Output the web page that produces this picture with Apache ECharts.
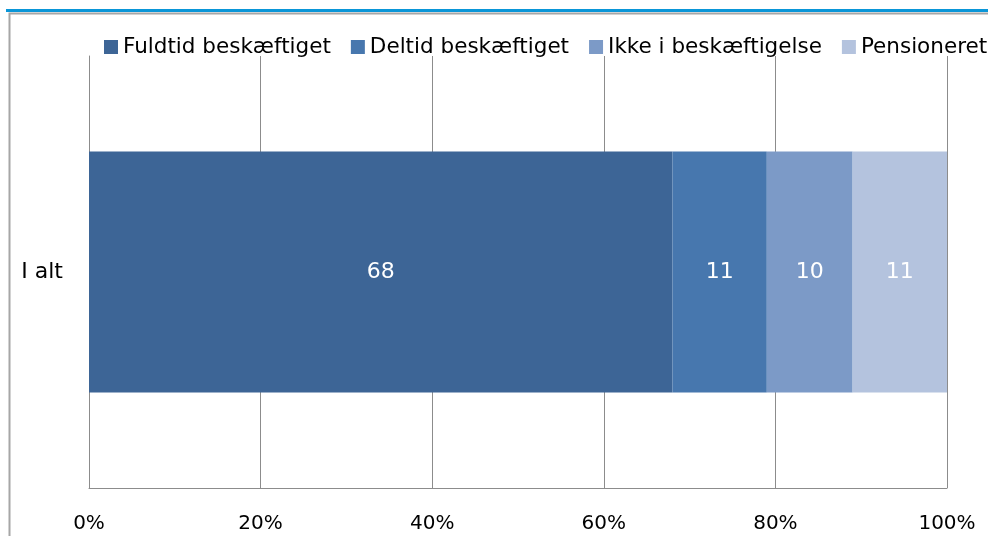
<!DOCTYPE html>
<html>
<head>
<meta charset="utf-8">
<script src="https://cdn.jsdelivr.net/npm/echarts@6/dist/echarts.min.js"></script>
<style>
  html, body { margin: 0; padding: 0; background: #fff; }
  #chart { width: 988px; height: 536px; }
</style>
</head>
<body>
<div id="chart"></div>
<script>
// kategorier og serier
const categories = ["I alt"];
const seriesNames = ["Fuldtid beskæftiget", "Deltid beskæftiget", "Ikke i beskæftigelse", "Pensioneret"];
const fuldtid = [68];
const deltid = [11];
const ikkeBeskaeftiget = [10];
const pensioneret = [11];
const tickLabels = ["0%", "20%", "40%", "60%", "80%", "100%"];

const colors = ["#3d6596", "#4777ae", "#7c9ac7", "#b4c3de"];
const font = "DejaVu Sans";

const seriesData = [fuldtid, deltid, ikkeBeskaeftiget, pensioneret];

const chart = echarts.init(document.getElementById("chart"));

const option = {
  animation: false,
  textStyle: { fontFamily: font },
  graphic: [
    // blå linje øverst
    { type: "rect", shape: { x: 6, y: 9, width: 982, height: 3 }, style: { fill: "#0a96d8" } },
    // ramme
    { type: "rect", shape: { x: 9.5, y: 13.5, width: 990, height: 540 }, style: { fill: "none", stroke: "#a6a6a6", lineWidth: 2 } }
  ],
  legend: {
    left: 104,
    top: 36,
    width: 900,
    padding: 0,
    itemWidth: 14,
    itemHeight: 14,
    itemGap: 20,
    icon: "rect",
    textStyle: { fontSize: 21.5, color: "#000", fontFamily: font },
    data: seriesNames
  },
  grid: { left: 89, right: 41, top: 56, bottom: 48, containLabel: false },
  xAxis: {
    type: "value",
    min: 0,
    max: 100,
    interval: 20,
    axisLine: { show: true, lineStyle: { color: "#8c8c8c" } },
    axisTick: { show: false },
    splitLine: { show: true, lineStyle: { color: "#8c8c8c", width: 1 } },
    axisLabel: {
      margin: 26,
      fontSize: 20,
      color: "#000",
      formatter: (v) => tickLabels[Math.round(v / 20)]
    }
  },
  yAxis: {
    type: "category",
    data: categories,
    axisLine: { show: true, lineStyle: { color: "#8c8c8c" } },
    axisTick: { show: false },
    axisLabel: { margin: 26, fontSize: 22, color: "#000" }
  },
  series: seriesNames.map((name, i) => ({
    name: name,
    type: "bar",
    stack: "total",
    barWidth: 241,
    itemStyle: { color: colors[i] },
    label: { show: true, position: "inside", color: "#fff", fontSize: 22 },
    data: seriesData[i]
  }))
};

chart.setOption(option);
</script>
</body>
</html>
